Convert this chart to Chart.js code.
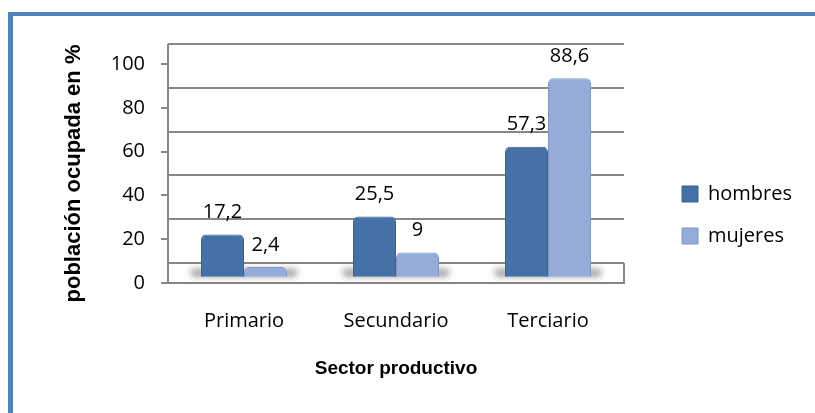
<!DOCTYPE html>
<html>
<head>
<meta charset="utf-8">
<script src="https://cdn.jsdelivr.net/npm/chart.js@4/dist/chart.umd.min.js"></script>
<style>
  html, body { margin: 0; padding: 0; background: #fff; overflow: hidden; }
  #wrap { position: relative; width: 815px; height: 413px; }
</style>
</head>
<body>
<div id="wrap"><canvas id="c" width="815" height="413"></canvas></div>
<script>
// ---- data ----
const categories = ['Primario', 'Secundario', 'Terciario'];
const hombres = [17.2, 25.5, 57.3];
const mujeres = [2.4, 9, 88.6];
const seriesNames = ['hombres', 'mujeres'];
const yTicks = [0, 20, 40, 60, 80, 100];
const yTitle = 'población ocupada en %';
const xTitle = 'Sector productivo';

const GRID = '#878787';
const DEPTH = 20; // back-wall offset of the 3D look

const framePlugin = {
  id: 'frame',
  beforeDraw(chart) {
    const ctx = chart.ctx;
    ctx.save();
    ctx.fillStyle = '#ffffff';
    ctx.fillRect(0, 0, chart.width, chart.height);
    ctx.fillStyle = '#4F81BD';
    ctx.fillRect(8, 12, 5, chart.height);
    ctx.fillRect(8, 12, chart.width, 4);
    ctx.restore();
  }
};

const wallPlugin = {
  id: 'wall',
  beforeDatasetsDraw(chart) {
    const ctx = chart.ctx;
    const ys = chart.scales.y;
    const a = chart.chartArea;
    ctx.save();
    ctx.strokeStyle = GRID;
    ctx.lineWidth = 2;
    yTicks.forEach(v => {
      const py = Math.round(ys.getPixelForValue(v) - DEPTH);
      ctx.beginPath();
      ctx.moveTo(a.left, py);
      ctx.lineTo(a.right, py);
      ctx.stroke();
    });
    const top = ys.getPixelForValue(yTicks[yTicks.length - 1]) - DEPTH;
    const floorBack = ys.getPixelForValue(0) - DEPTH;
    ctx.beginPath();
    ctx.moveTo(a.left, top);
    ctx.lineTo(a.left, a.bottom);
    ctx.moveTo(a.right, floorBack);
    ctx.lineTo(a.right, a.bottom);
    ctx.stroke();
    // floor shadows under bar groups
    const m0 = chart.getDatasetMeta(0).data;
    const m1 = chart.getDatasetMeta(1).data;
    ctx.filter = 'blur(3px)';
    ctx.fillStyle = 'rgba(0,0,0,0.35)';
    m0.forEach((b0, i) => {
      const b1 = m1[i];
      const l = b0.x - b0.width / 2 - 10;
      const r = b1.x + b1.width / 2 + 10;
      ctx.fillRect(l, b0.base - 8, r - l, 8);
    });
    ctx.restore();
  },
  afterDatasetsDraw(chart) {
    const ctx = chart.ctx;
    ctx.save();
    ctx.font = '20px "Open Sans"';
    ctx.fillStyle = '#000';
    ctx.textAlign = 'center';
    ctx.textBaseline = 'middle';
    chart.data.datasets.forEach((ds, di) => {
      chart.getDatasetMeta(di).data.forEach((bar, i) => {
        const txt = String(ds.data[i]).replace('.', ',');
        ctx.fillText(txt, bar.x, bar.y - 22);
      });
    });
    ctx.restore();
  }
};

function build() {
  new Chart(document.getElementById('c'), {
    type: 'bar',
    data: {
      labels: categories,
      datasets: [
        {
          label: seriesNames[0], data: hombres, xAxisID: 'x', yAxisID: 'yb',
          backgroundColor: '#4571A8', borderColor: '#3A6297', borderWidth: 1,
          borderRadius: {topLeft: 5, topRight: 5, bottomLeft: 0, bottomRight: 0},
          borderSkipped: 'bottom', base: -2.1
        },
        {
          label: seriesNames[1], data: mujeres, xAxisID: 'x', yAxisID: 'yb',
          backgroundColor: '#94ACD7', borderColor: '#7F97C4', borderWidth: 1,
          borderRadius: {topLeft: 5, topRight: 5, bottomLeft: 0, bottomRight: 0},
          borderSkipped: 'bottom', base: -2.1
        }
      ]
    },
    options: {
      responsive: false,
      maintainAspectRatio: false,
      devicePixelRatio: 1,
      animation: false,
      layout: { padding: { left: 61, right: 13, top: 17, bottom: 0 } },
      datasets: { bar: { categoryPercentage: 0.566, barPercentage: 1.0 } },
      scales: {
        x: {
          position: 'bottom',
          grid: { display: false, drawTicks: false },
          border: { display: true, color: GRID, width: 2 },
          ticks: { font: { family: 'Open Sans', size: 20 }, color: '#000', padding: 26, maxRotation: 0, minRotation: 0 },
          title: {
            display: true, text: xTitle, color: '#000',
            font: { family: 'Liberation Sans', size: 19, weight: 'bold' },
            padding: { top: 24.6, bottom: 32.6 }
          },
          afterFit(s) { s.height = 130; }
        },
        xTop: {
          type: 'linear', position: 'top', display: true,
          ticks: { display: false }, grid: { display: false, drawTicks: false }, border: { display: false },
          afterFit(s) { s.height = 47; }
        },
        y: {
          position: 'left',
          min: yTicks[0], max: yTicks[yTicks.length - 1],
          afterBuildTicks(s) { s.ticks = yTicks.map(v => ({ value: v })); },
          grid: { drawOnChartArea: false, drawTicks: true, tickLength: 7, color: GRID, lineWidth: 2 },
          border: { display: true, color: GRID, width: 2 },
          ticks: { font: { family: 'Open Sans', size: 20 }, color: '#000', padding: 16 },
          title: {
            display: true, text: yTitle, color: '#000',
            font: { family: 'Liberation Sans', size: 22, weight: 'bold' },
            padding: { top: 0, bottom: 24 }
          },
          afterFit(s) { s.width = 107; }
        },
        yb: {
          position: 'right', display: false,
          min: -4.9, max: 95.1,
          afterFit(s) { s.width = 36; }
        }
      },
      plugins: {
        legend: {
          position: 'right',
          align: 'center',
          labels: {
            boxWidth: 16, boxHeight: 16, padding: 22, color: '#000',
            font: { family: 'Open Sans', size: 20 }
          }
        },
        tooltip: { enabled: false }
      }
    },
    plugins: [framePlugin, wallPlugin]
  });
}

let built = false;
function go() { if (!built) { built = true; build(); } }
if (document.fonts && document.fonts.load) {
  Promise.all([
    document.fonts.load('20px "Open Sans"'),
    document.fonts.load('bold 22px "Liberation Sans"'),
    document.fonts.load('bold 19px "Liberation Sans"')
  ]).then(go, go);
  setTimeout(go, 300);
} else {
  go();
}
</script>
</body>
</html>
